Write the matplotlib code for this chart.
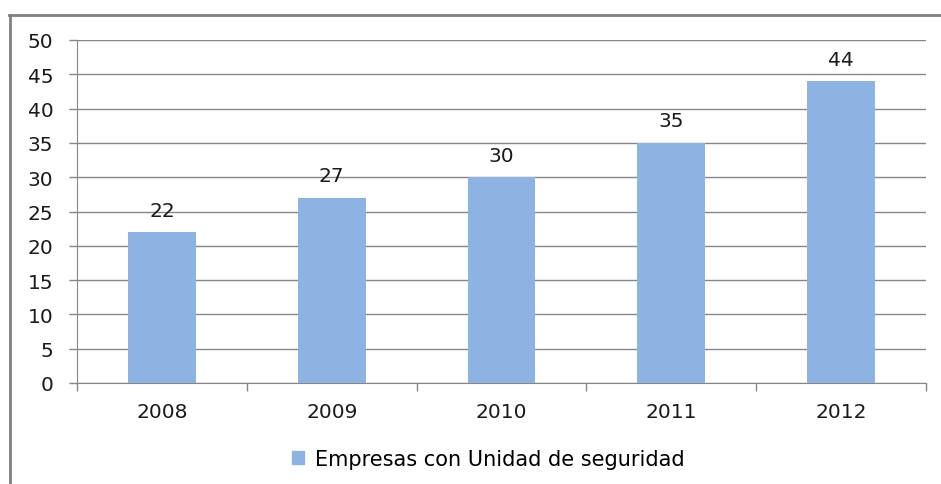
import matplotlib.pyplot as plt
import numpy as np
from matplotlib.lines import Line2D
from matplotlib.patches import Patch

years = ['2008', '2009', '2010', '2011', '2012']
empresas = [22, 27, 30, 35, 44]
serie = 'Empresas con Unidad de seguridad'

plt.rcParams['font.family'] = ['DejaVu Sans']

fig = plt.figure(figsize=(9.41, 4.85), dpi=100)
ax = fig.add_axes([77/941, 1-384/485, 849/941, 343/485])

x = np.arange(len(years))
bars = ax.bar(x, empresas, width=0.4, color='#8DB3E2', zorder=3)
for xi, v in zip(x, empresas):
    ax.annotate(str(v), (xi, v), xytext=(0, 9), textcoords='offset points',
                ha='center', va='bottom', fontsize=14.5, color='#1a1a1a')

ax.set_xlim(-0.5, len(years) - 0.5)
ax.set_ylim(0, 50)
ax.set_yticks(range(0, 51, 5))
ax.set_xticks(x)
ax.set_xticklabels(years)
ax.set_xticks(np.arange(-0.5, len(years)), minor=True)
ax.tick_params(axis='x', which='major', length=0, pad=14, labelsize=14.5, labelcolor='#1a1a1a')
ax.tick_params(axis='x', which='minor', length=6, color='#868686', width=1)
ax.tick_params(axis='y', length=6, color='#868686', width=1, pad=11, labelsize=14.5, labelcolor='#1a1a1a')
ax.yaxis.grid(True, color='#868686', linewidth=1, zorder=0)
for s in ['top', 'right']:
    ax.spines[s].set_visible(False)
ax.spines['left'].set_color('#868686')
ax.spines['bottom'].set_color('#868686')

fig.legend(handles=[Patch(color='#8DB3E2', label=serie)], loc='center',
           bbox_to_anchor=(488/941, 1-460/485), frameon=False, fontsize=15,
           handlelength=0.6, handleheight=0.6, handletextpad=0.5)

# outer chart border (only left and top visible)
fig.add_artist(Line2D([9.5/941, 9.5/941], [0, 1-16/485], color='#808080', linewidth=2,
                      transform=fig.transFigure))
fig.add_artist(Line2D([9/941, 1], [1-16/485, 1-16/485], color='#808080', linewidth=2,
                      transform=fig.transFigure))

fig.savefig('out.png', dpi=100)
